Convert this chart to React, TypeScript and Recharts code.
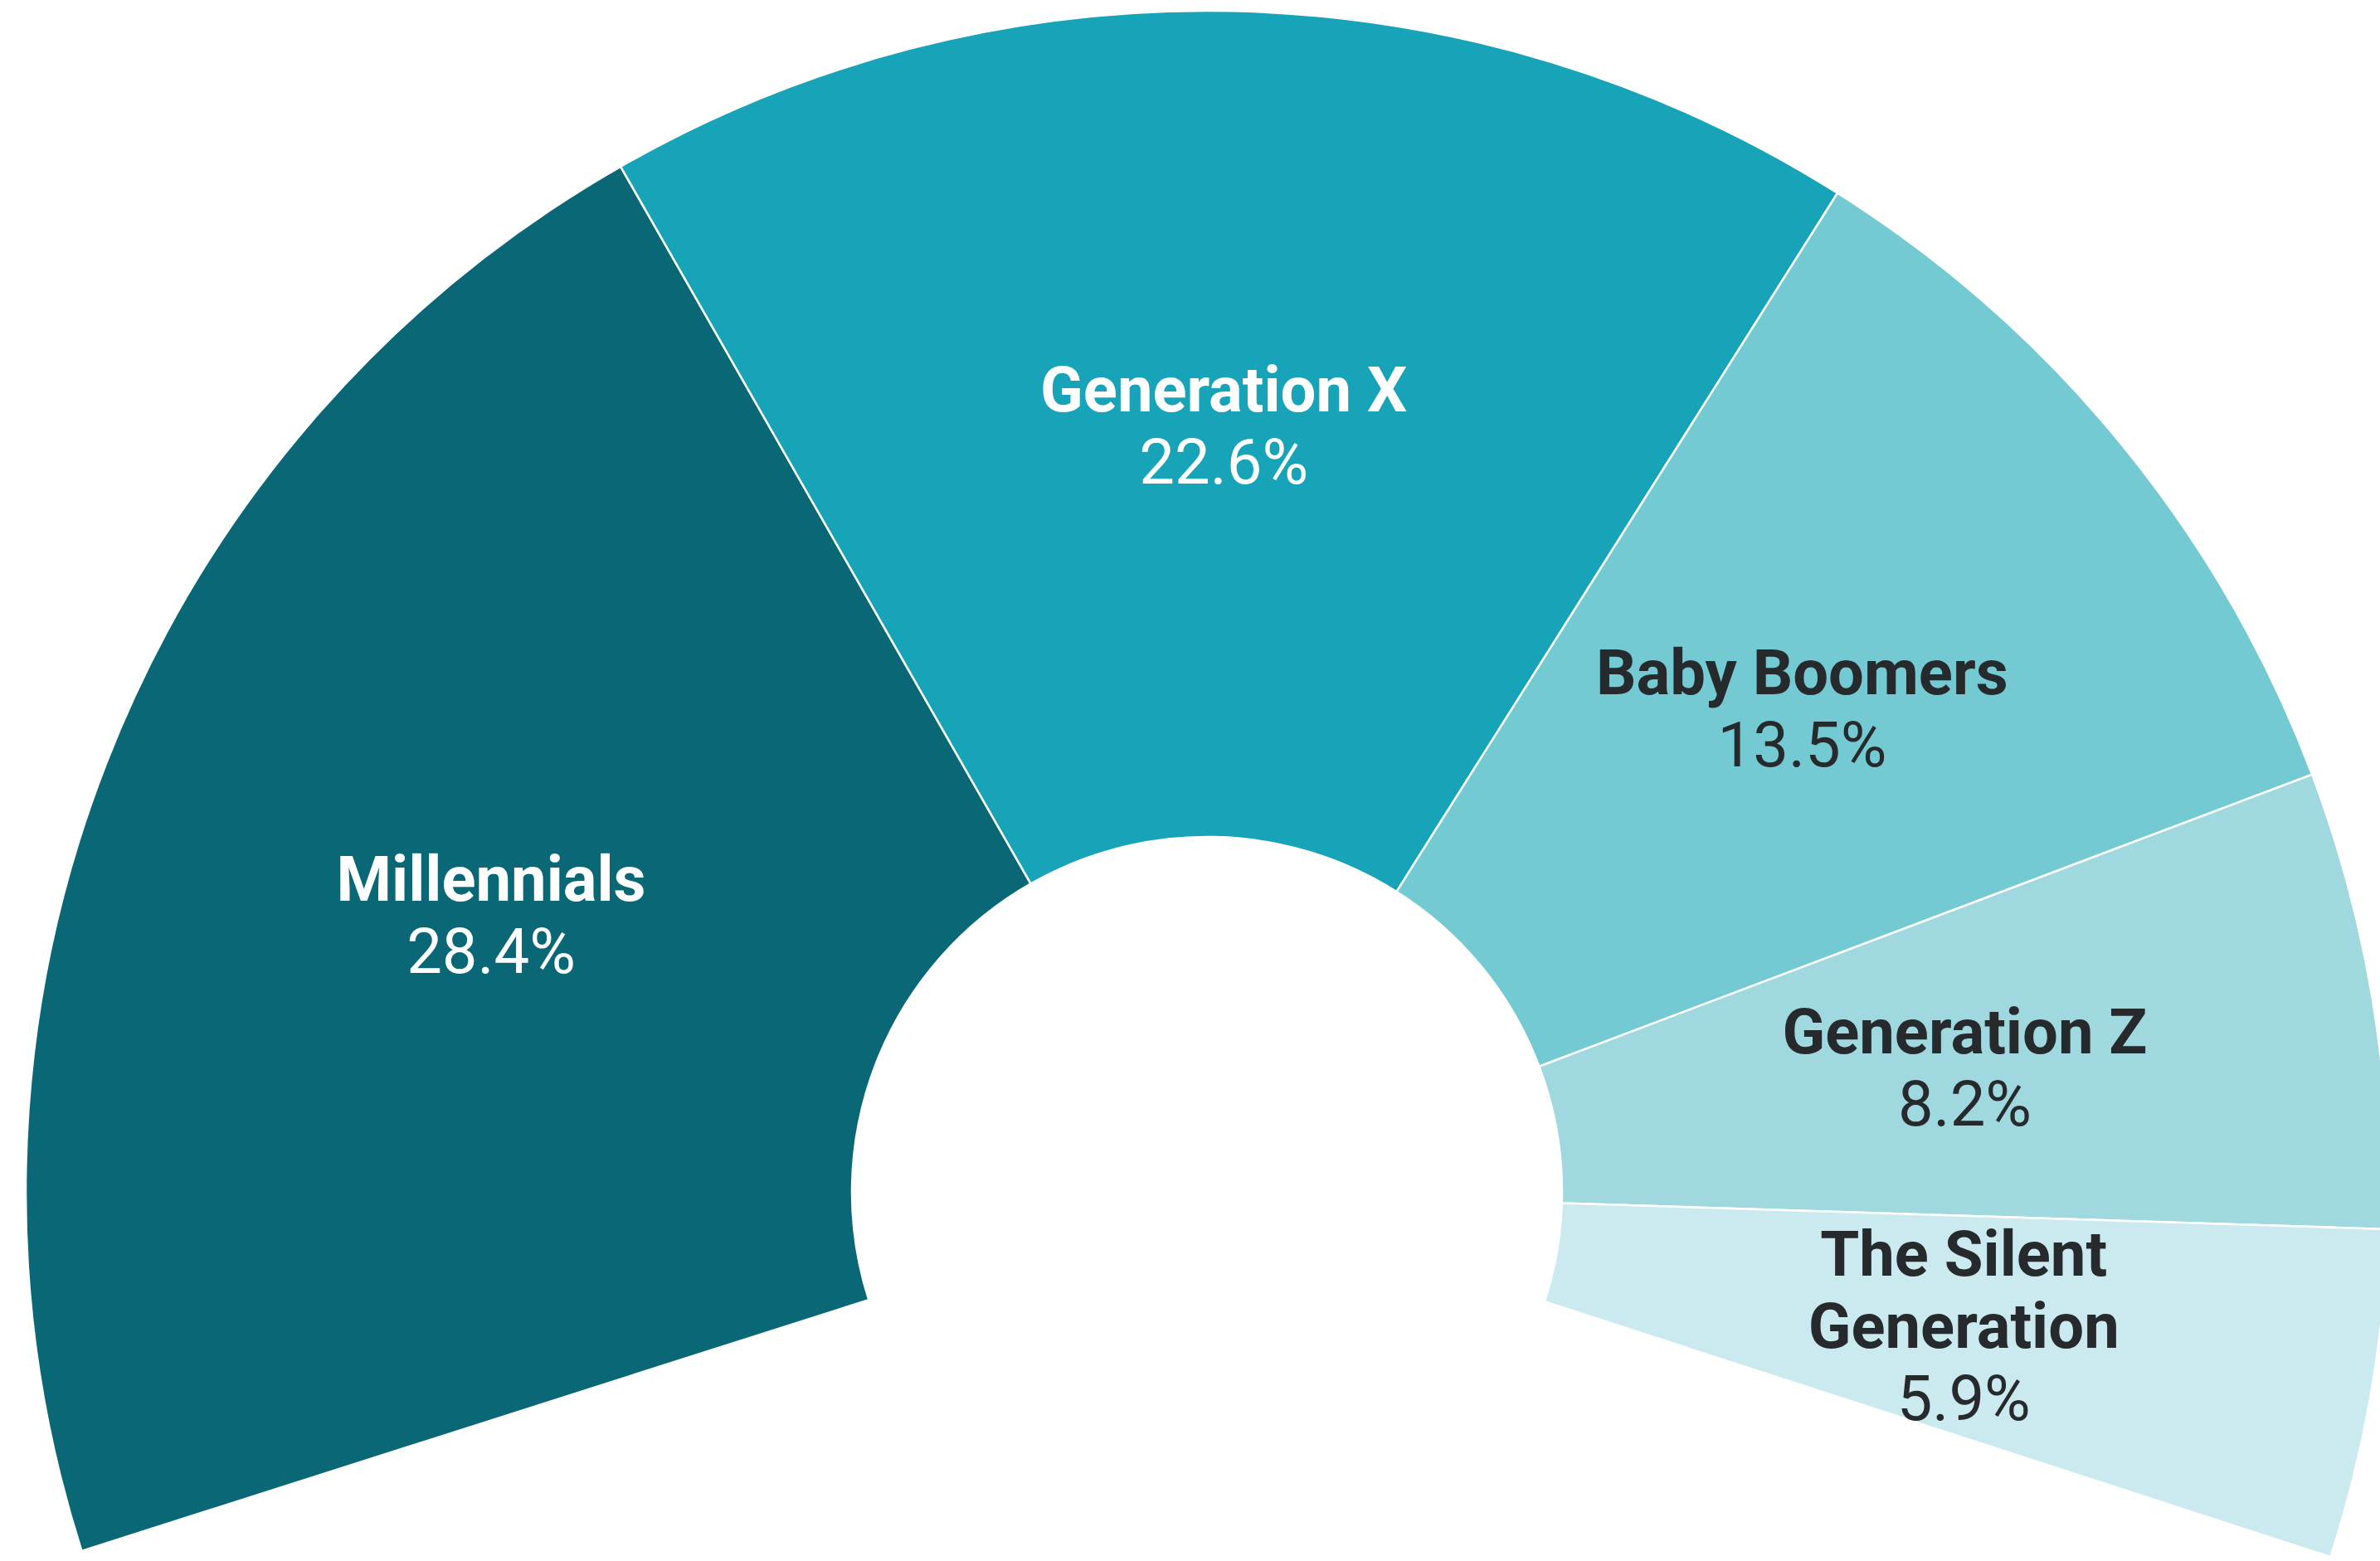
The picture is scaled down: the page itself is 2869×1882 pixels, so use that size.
import React from "react";
import { PieChart, Pie, Cell } from "recharts";

const categories = ["Millennials", "Generation X", "Baby Boomers", "Generation Z", "The Silent Generation"];
const shares = [28.4, 22.6, 13.5, 8.2, 5.9];
const labelLines = [["Millennials"], ["Generation X"], ["Baby Boomers"], ["Generation Z"], ["The Silent", "Generation"]];
const sliceColors = ["#0a6876", "#17a3b8", "#74cad2", "#a0d8e0", "#cbeaef"];
const textColors = ["#ffffff", "#ffffff", "#262a2c", "#262a2c", "#262a2c"];

const data = categories.map((name, i) => ({ name, value: shares[i] }));

const RADIAN = Math.PI / 180;
const FONT = 76;
const LINE = 87;
const CAP = 57;

const renderLabel = (props: any) => {
  const { cx, cy, midAngle, innerRadius, outerRadius, index } = props;
  const r = (innerRadius + outerRadius) / 2;
  const x = cx + r * Math.cos(-midAngle * RADIAN);
  const y = cy + r * Math.sin(-midAngle * RADIAN);
  const lines = labelLines[index];
  const n = lines.length + 1;
  const first = y - ((n - 1) * LINE - CAP) / 2;
  const color = textColors[index];
  return (
    <text
      key={`lbl-${index}`}
      textAnchor="middle"
      fill={color}
      style={{ fontFamily: "Roboto, 'Noto Sans', sans-serif", fontSize: FONT }}
    >
      {lines.map((ln, j) => (
        <tspan key={j} x={x} y={first + j * LINE} fontWeight={700}>
          {ln}
        </tspan>
      ))}
      <tspan x={x} y={first + lines.length * LINE} fontWeight={400}>
        {`${shares[index].toFixed(1)}%`}
      </tspan>
    </text>
  );
};

export default function App() {
  return (
    <div style={{ position: "absolute", left: 0, top: 0, width: 2869, height: 1882, background: "#ffffff", overflow: "hidden" }}>
      <PieChart width={2869} height={1882} margin={{ top: 0, right: 0, bottom: 0, left: 0 }}>
        <Pie
          data={data}
          dataKey="value"
          nameKey="name"
          cx={1455}
          cy={1437}
          innerRadius={428}
          outerRadius={1424}
          startAngle={197.7}
          endAngle={-18}
          stroke="#ffffff"
          strokeWidth={2.5}
          label={renderLabel}
          labelLine={false}
          isAnimationActive={false}
        >
          {data.map((d, i) => (
            <Cell key={d.name} fill={sliceColors[i]} />
          ))}
        </Pie>
      </PieChart>
    </div>
  );
}
